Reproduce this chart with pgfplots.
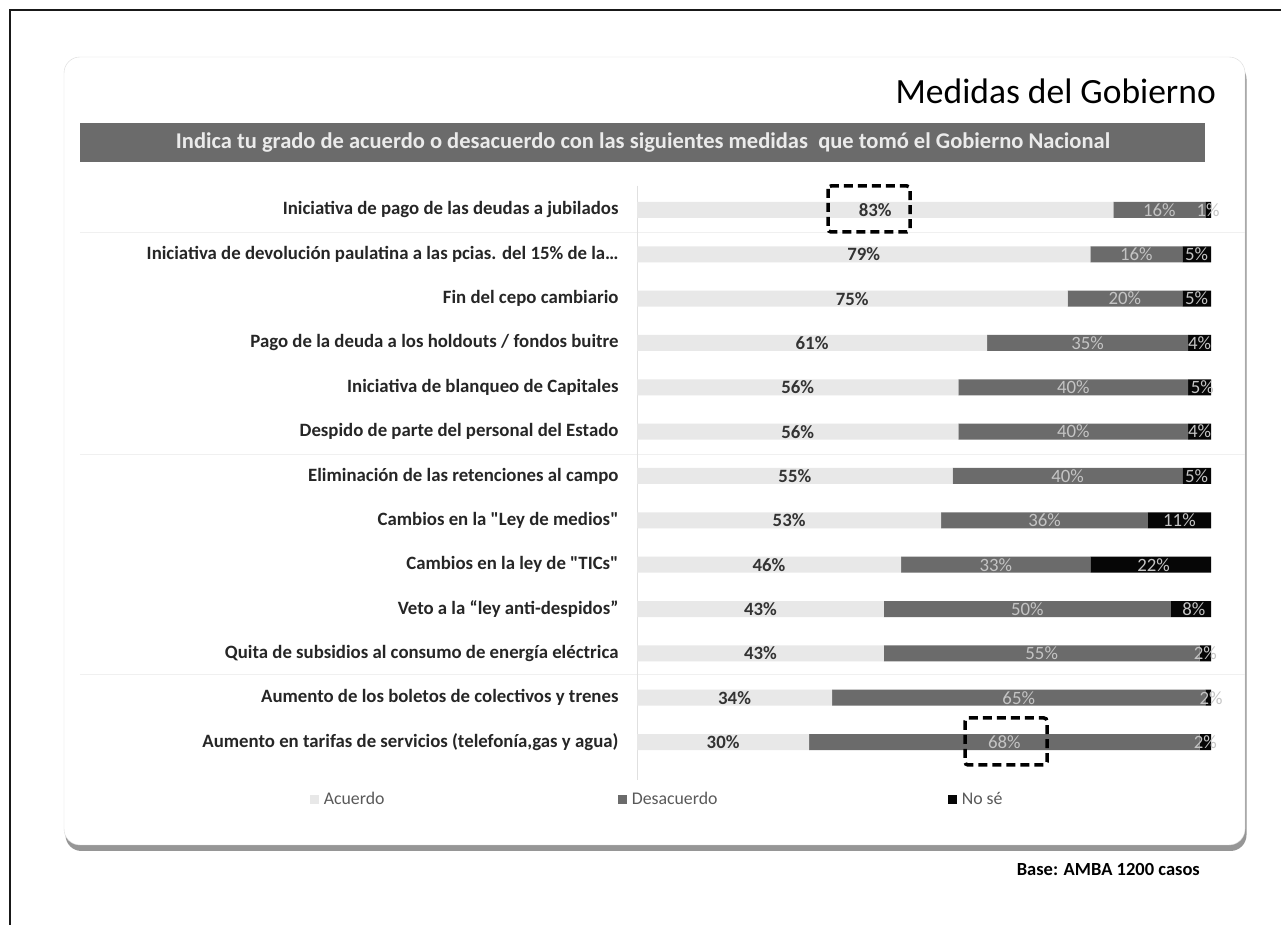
\documentclass[border=0pt]{standalone}
\usepackage{fontspec}
\setmainfont{Carlito}[Ligatures=TeXOff]
\usepackage{pgfplots}
\pgfplotsset{compat=1.18}
\usepackage{pgfplotstable}
\usetikzlibrary{shadows}

\definecolor{cA}{HTML}{E8E8E8}
\definecolor{cD}{HTML}{6B6B6B}
\definecolor{cN}{HTML}{060606}
\definecolor{banner}{HTML}{6B6B6B}
\definecolor{lblD}{HTML}{C4C4C4}

\pgfplotstableread{
idx a d n
0 83 16 1
1 79 16 5
2 75 20 5
3 61 35 4
4 56 40 5
5 56 40 4
6 55 40 5
7 53 36 11
8 46 33 22
9 43 50 8
10 43 55 2
11 34 65 2
12 30 68 2
}\data

\pgfplotsset{
  geom/.style={
    at={(637pt,145.3pt)}, anchor=south west,
    scale only axis, width=574pt, height=594.1pt,
    xmin=0, xmax=100, ymin=-0.55, ymax=12.85, y dir=reverse,
  }
}

\begin{document}
\begin{tikzpicture}[x=1pt,y=1pt]
\useasboundingbox (0,0) rectangle (1281,925);
% outer frame
\draw[line width=2.5pt, black!90] (10,0) -- (10,915) -- (1281,915);
% panel
\draw[black!15, fill=white, rounded corners=16pt,
  drop shadow={shadow xshift=1.5pt, shadow yshift=-6pt, fill=black!55, opacity=0.75}]
  (64,80) rectangle (1245,868);
% title
\node[anchor=east, inner sep=0pt] at (1216,834) {\fontsize{35.5}{40}\selectfont Medidas del Gobierno};
% banner
\fill[banner] (80,763) rectangle (1205,802);
\node[text=black!8, inner sep=0pt] at (643,782.5) {\fontsize{22.5}{26}\selectfont\bfseries Indica tu grado de acuerdo o desacuerdo con las siguientes medidas\ \ que tomó el Gobierno Nacional};
% separators
\draw[black!6, line width=1pt] (80,692) -- (1245,692);
\draw[black!6, line width=1pt] (80,470) -- (1245,470);
\draw[black!6, line width=1pt] (80,250) -- (1245,250);

\begin{axis}[
  geom,
  xbar stacked, bar width=16pt,
  hide x axis,
  axis y line*=left,
  y axis line style={draw=black!12, line width=1pt},
  ytick={0,1,2,3,4,5,6,7,8,9,10,11,12},
  ytick style={draw=none},
  yticklabels={
    {Iniciativa de pago de las deudas a jubilados},
    {Iniciativa de devolución paulatina a las pcias. del 15\% de la\dots},
    {Fin del cepo cambiario},
    {Pago de la deuda a los holdouts / fondos buitre},
    {Iniciativa de blanqueo de Capitales},
    {Despido de parte del personal del Estado},
    {Eliminación de las retenciones al campo},
    {Cambios en la "Ley de medios"},
    {Cambios en la ley de "TICs"},
    {Veto a la “ley anti-despidos”},
    {Quita de subsidios al consumo de energía eléctrica},
    {Aumento de los boletos de colectivos y trenes},
    {Aumento en tarifas de servicios (telefonía,gas y agua)}
  },
  yticklabel style={font=\fontsize{18.8}{22}\selectfont\bfseries, text=black!85, xshift=-15pt},
  legend columns=3,
  legend style={draw=none, fill=none, inner sep=0pt, outer sep=0pt,
    at={(-0.5700,-0.0325)}, anchor=west,
    font=\fontsize{17.8}{21}\selectfont, text=black!65,
    /tikz/every odd column/.style={column sep=3pt}},
]
\addplot[fill=cA, draw=none, legend image code/.code={\fill[cA] (0pt,-4.5pt) rectangle (9pt,4.5pt);}] table[x=a, y=idx] {\data};
\addlegendentry{\makebox[292pt][l]{Acuerdo}}
\addplot[fill=cD, draw=none, legend image code/.code={\fill[cD] (0pt,-4.5pt) rectangle (9pt,4.5pt);}] table[x=d, y=idx] {\data};
\addlegendentry{\makebox[314pt][l]{Desacuerdo}}
\addplot[fill=cN, draw=none, legend image code/.code={\fill[cN] (0pt,-4.5pt) rectangle (9pt,4.5pt);}] table[x=n, y=idx] {\data};
\addlegendentry{No sé}
\end{axis}

\begin{axis}[
  geom, hide axis, clip=true,
  point meta=explicit,
  /pgf/number format/assume math mode=true,
  nodes near coords={\pgfmathprintnumber{\pgfplotspointmeta}\%},
  nodes near coords align=center,
]
\addplot[draw=none, mark=none, every node near coord/.append style={font=\fontsize{18.8}{22}\selectfont\bfseries, text=black!80}]
  table[x expr=\thisrow{a}/2, y=idx, meta=a] {\data};
\addplot[draw=none, mark=none, every node near coord/.append style={font=\fontsize{18.8}{22}\selectfont, text=lblD}]
  table[x expr=\thisrow{a}+\thisrow{d}/2, y=idx, meta=d] {\data};
\addplot[draw=none, mark=none, every node near coord/.append style={font=\fontsize{18.8}{22}\selectfont, text=lblD}]
  table[x expr=\thisrow{a}+\thisrow{d}+\thisrow{n}/2, y=idx, meta=n] {\data};
\end{axis}

% highlight boxes
\draw[line width=3.5pt, dash pattern=on 9pt off 5pt, rounded corners=3pt] (828,739) rectangle (910,693);
\draw[line width=3.5pt, dash pattern=on 9pt off 5pt, rounded corners=3pt] (965,207) rectangle (1047,160);
% base
\node[anchor=east, inner sep=0pt] at (1200,55) {\fontsize{18.5}{22}\selectfont\bfseries Base: AMBA 1200 casos};
\end{tikzpicture}
\end{document}
